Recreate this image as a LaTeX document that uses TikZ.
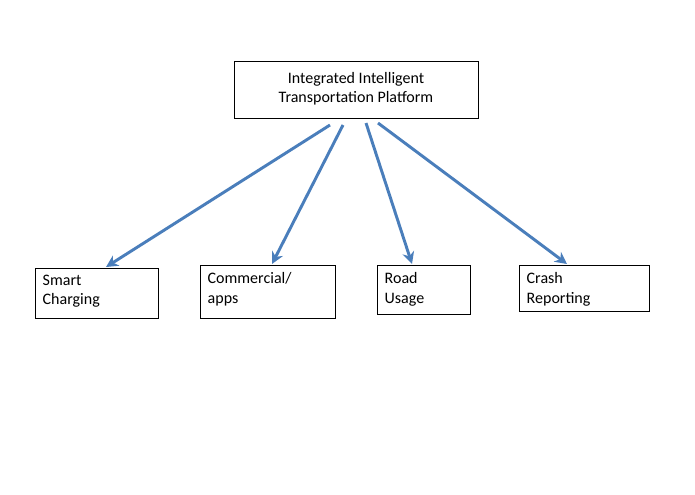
\documentclass[tikz,border=0pt]{standalone}
\usepackage{fontspec}
\setmainfont{Carlito}
\usetikzlibrary{arrows.meta}
\definecolor{arr}{HTML}{4A7EBB}
\begin{document}
\begin{tikzpicture}[x=0.75pt,y=-0.75pt,
  box/.style={draw,line width=0.6pt,inner sep=0pt},
  lbl/.style={anchor=north west,align=left,font=\fontsize{12}{14.5}\selectfont},
  con/.style={draw=arr,line width=2.2pt,-{Stealth[length=9pt,width=9pt]}}]
\useasboundingbox (0,0) rectangle (695,494);
\draw[box] (234,61) rectangle (478,118);
\node[align=center,font=\fontsize{12}{14.5}\selectfont] (top) at (356,89) {Integrated Intelligent\\Transportation Platform};
\draw[box] (35,268) rectangle (158,318);
\node[lbl] (sc) at (38,270) {Smart\\Charging};
\draw[box] (200,265) rectangle (335,318);
\node[lbl] (ca) at (203,268) {Commercial/\\apps};
\draw[box] (377,265) rectangle (470,314);
\node[lbl] (ru) at (380,268) {Road\\Usage};
\draw[box] (519,265) rectangle (649,311);
\node[lbl] (cr) at (522,268) {Crash\\Reporting};
\coordinate (s1) at (330,125); \coordinate (e1) at (106,267);
\coordinate (s2) at (343,125); \coordinate (e2) at (272,264);
\coordinate (s3) at (366,123); \coordinate (e3) at (412,264);
\coordinate (s4) at (378,123); \coordinate (e4) at (567,264);
\draw[con] (s1) -- (e1);
\draw[con] (s2) -- (e2);
\draw[con] (s3) -- (e3);
\draw[con] (s4) -- (e4);
\end{tikzpicture}
\end{document}
